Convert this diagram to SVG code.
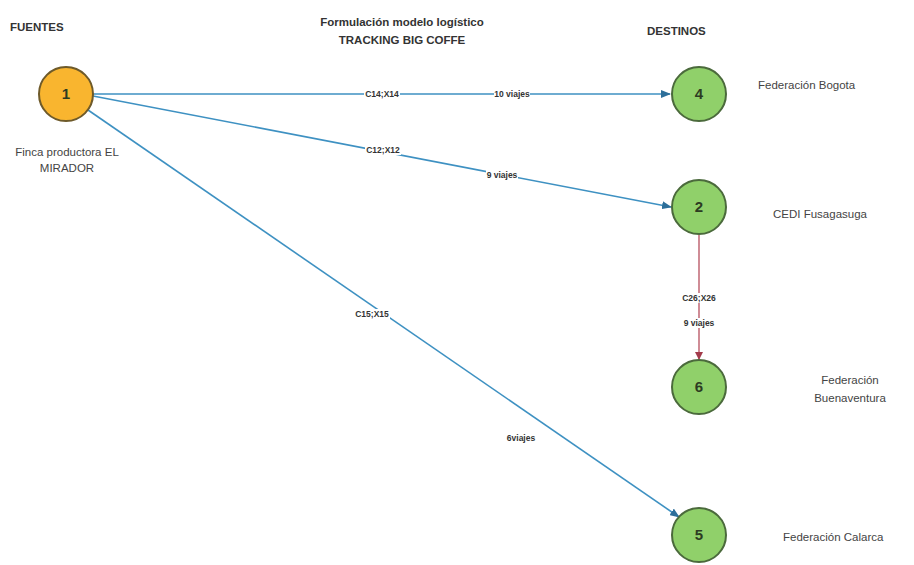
<svg xmlns="http://www.w3.org/2000/svg" width="914" height="565" viewBox="0 0 914 565">
<style>
.hdr{font-family:"Liberation Sans",Arial,sans-serif;font-size:11.5px;font-weight:bold;fill:#333}
.lbl{font-family:"Liberation Sans",Arial,sans-serif;font-size:11.5px;fill:#444}
.num{font-family:"Liberation Sans",Arial,sans-serif;font-size:15px;font-weight:bold;fill:#2d3b22;text-anchor:middle}
.el{font-family:"Liberation Sans",Arial,sans-serif;font-size:8.5px;font-weight:bold;fill:#333;text-anchor:middle}
.src{fill:#f9b52f;stroke:#6e5a2a;stroke-width:2}
.dst{fill:#90d06a;stroke:#4b6a3c;stroke-width:2}
.eb{stroke:#3e91c2;stroke-width:1.6;fill:none;marker-end:url(#ab)}
.er{stroke:#b04050;stroke-width:1.2;fill:none;marker-end:url(#ar)}
.bg{fill:#fff}
</style>
<defs>
<marker id="ab" markerWidth="10" markerHeight="8" refX="9" refY="4" orient="auto" markerUnits="userSpaceOnUse"><path d="M0,0 L10,4 L0,8 Z" fill="#2d6f9a"/></marker>
<marker id="ar" markerWidth="8" markerHeight="8" refX="7" refY="4" orient="auto" markerUnits="userSpaceOnUse"><path d="M0,0 L8,4 L0,8 Z" fill="#a33b4b"/></marker>
</defs>
<rect width="914" height="565" fill="#fff"/>
<text class="hdr" x="10" y="31">FUENTES</text>
<text class="hdr" x="402" y="26" text-anchor="middle">Formulación modelo logístico</text>
<text class="hdr" x="402" y="44" text-anchor="middle">TRACKING BIG COFFE</text>
<text class="hdr" x="647" y="35">DESTINOS</text>
<g id="connectors">
<line class="eb" x1="93" y1="94" x2="670" y2="94"/>
<line class="eb" x1="93" y1="96" x2="671" y2="207"/>
<line class="eb" x1="88" y1="110" x2="679" y2="517"/>
<line class="er" x1="699" y1="235" x2="699" y2="359"/>
<rect class="bg" x="364" y="89" width="36" height="10"/><text class="el" x="382" y="97">C14;X14</text>
<rect class="bg" x="494" y="89" width="36" height="10"/><text class="el" x="512" y="97">10 viajes</text>
<rect class="bg" x="365" y="145" width="36" height="10"/><text class="el" x="383" y="153">C12;X12</text>
<rect class="bg" x="486" y="170" width="32" height="10"/><text class="el" x="502" y="178">9 viajes</text>
<rect class="bg" x="354" y="309" width="36" height="10"/><text class="el" x="372" y="317">C15;X15</text>
<rect class="bg" x="506" y="433" width="30" height="10"/><text class="el" x="521" y="441">6viajes</text>
<rect class="bg" x="681" y="293" width="36" height="10"/><text class="el" x="699" y="301">C26;X26</text>
<rect class="bg" x="683" y="318" width="32" height="10"/><text class="el" x="699" y="326">9 viajes</text>
</g>
<g id="n1"><circle class="src" cx="66" cy="94" r="27"/><text class="num" x="66" y="99">1</text>
<text class="lbl" x="67" y="156" text-anchor="middle">Finca productora EL</text><text class="lbl" x="67" y="172" text-anchor="middle">MIRADOR</text></g>
<g id="n4"><circle class="dst" cx="699" cy="94" r="27"/><text class="num" x="699" y="99">4</text>
<text class="lbl" x="758" y="89">Federación Bogota</text></g>
<g id="n2"><circle class="dst" cx="699" cy="207" r="27"/><text class="num" x="699" y="212">2</text>
<text class="lbl" x="773" y="218">CEDI Fusagasuga</text></g>
<g id="n6"><circle class="dst" cx="699" cy="387" r="27"/><text class="num" x="699" y="392">6</text>
<text class="lbl" x="850" y="384" text-anchor="middle">Federación</text><text class="lbl" x="850" y="402" text-anchor="middle">Buenaventura</text></g>
<g id="n5"><circle class="dst" cx="699" cy="535" r="27"/><text class="num" x="699" y="540">5</text>
<text class="lbl" x="783" y="541">Federación Calarca</text></g>
</svg>
